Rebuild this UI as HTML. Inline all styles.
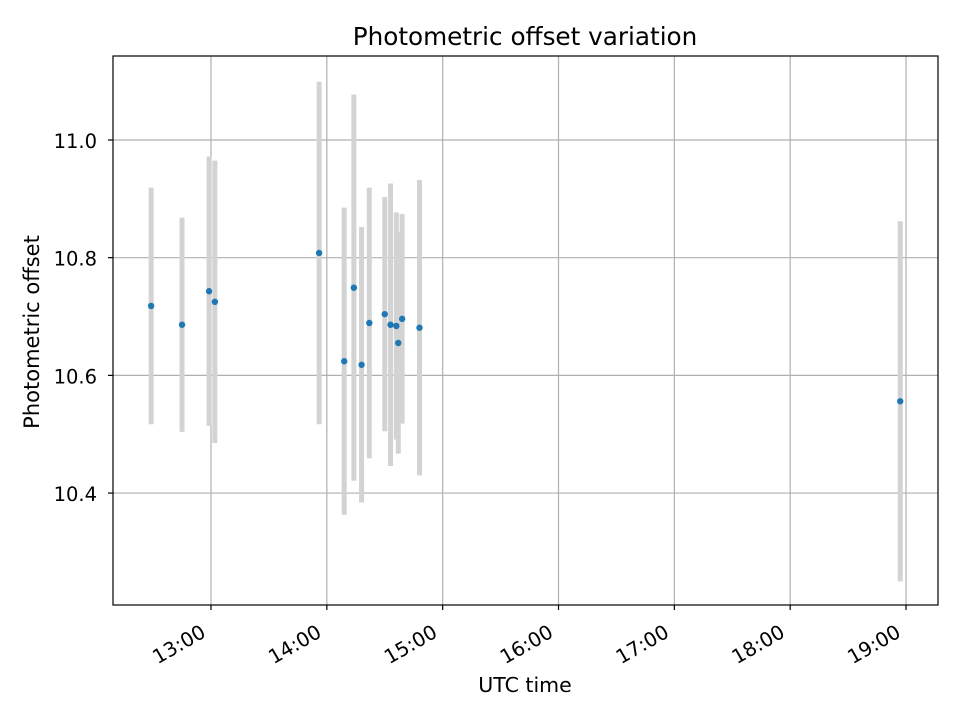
<!DOCTYPE html>
<html><head><meta charset="utf-8"><style>body{margin:0;background:#fff}svg{display:block;font-family:"DejaVu Sans","Liberation Sans",sans-serif}</style></head>
<body>
<svg id="chart" width="960" height="720" viewBox="0 0 960 720" xmlns="http://www.w3.org/2000/svg">
<rect width="960" height="720" fill="#fff"/>
<text x="525" y="45" text-anchor="middle" font-size="24.7">Photometric offset variation</text>
<text x="525" y="692" text-anchor="middle" font-size="20.5">UTC time</text>
<text transform="translate(39,332) rotate(-90)" text-anchor="middle" font-size="21">Photometric offset</text>
<g id="grid"></g><g id="bars"></g><g id="points"></g><g id="axes"></g>
</svg>
<script>
const times = ["12:29","12:45","12:59","13:02","13:56","14:09","14:14","14:18","14:22","14:30","14:33","14:36","14:37","14:39","14:48","18:57"];
const offsets = [10.718,10.686,10.743,10.725,10.808,10.624,10.749,10.618,10.689,10.704,10.686,10.684,10.655,10.696,10.681,10.556];
const errors = [0.201,0.182,0.229,0.240,0.291,0.261,0.328,0.234,0.230,0.199,0.240,0.193,0.188,0.178,0.251,0.306];
const xTicks = ["13:00","14:00","15:00","16:00","17:00","18:00","19:00"];
const yTicks = [10.4,10.6,10.8,11.0];

const L=113,R=938,T=56,B=605;
const xMin=12.154,xMax=19.276,yMin=10.2098,yMax=11.1427;
const hrs=s=>{const p=s.split(':');return +p[0]+ +p[1]/60;};
const X=h=>L+(h-xMin)/(xMax-xMin)*(R-L);
const Y=v=>B-(v-yMin)/(yMax-yMin)*(B-T);
const NS="http://www.w3.org/2000/svg";
function mk(tag,attrs,parent){const e=document.createElementNS(NS,tag);for(const k in attrs)e.setAttribute(k,attrs[k]);document.getElementById(parent).appendChild(e);return e;}

xTicks.forEach(t=>{
  const x=X(hrs(t));
  const g=mk('line',{x1:x,x2:x,y1:T,y2:B,stroke:'#b0b0b0','stroke-width':1.2},'grid');
  
  
  const tk=mk('line',{x1:x,x2:x,y1:B,y2:B+5,stroke:'#000','stroke-width':1.2},'axes');
  
  
  const lb=mk('text',{x:0,y:0,'text-anchor':'end','font-size':19.8,transform:`translate(${x-4},${B+31}) rotate(-30)`},'axes');
  lb.textContent=t;
  
  
});
yTicks.forEach(v=>{
  const y=Y(v);
  const g=mk('line',{x1:L,x2:R,y1:y,y2:y,stroke:'#b0b0b0','stroke-width':1.2},'grid');
  
  
  const tk=mk('line',{x1:L-5,x2:L,y1:y,y2:y,stroke:'#000','stroke-width':1.2},'axes');
  
  
  const lb=mk('text',{x:97,y:y+8,'text-anchor':'end','font-size':19.5},'axes');
  lb.textContent=v.toFixed(1);
  
  
});
times.forEach((t,i)=>{
  const x=X(hrs(t));
  const b=mk('line',{x1:x,x2:x,y1:Y(offsets[i]+errors[i]),y2:Y(offsets[i]-errors[i]),stroke:'#d3d3d3','stroke-width':5},'bars');
  
  
  const p=mk('circle',{cx:x,cy:Y(offsets[i]),r:3.2,fill:'#1f77b4'},'points');
  
  
});
const f=mk('rect',{x:L,y:T,width:R-L,height:B-T,fill:'none',stroke:'#000','stroke-width':1.2},'axes');


</script>
</body></html>
